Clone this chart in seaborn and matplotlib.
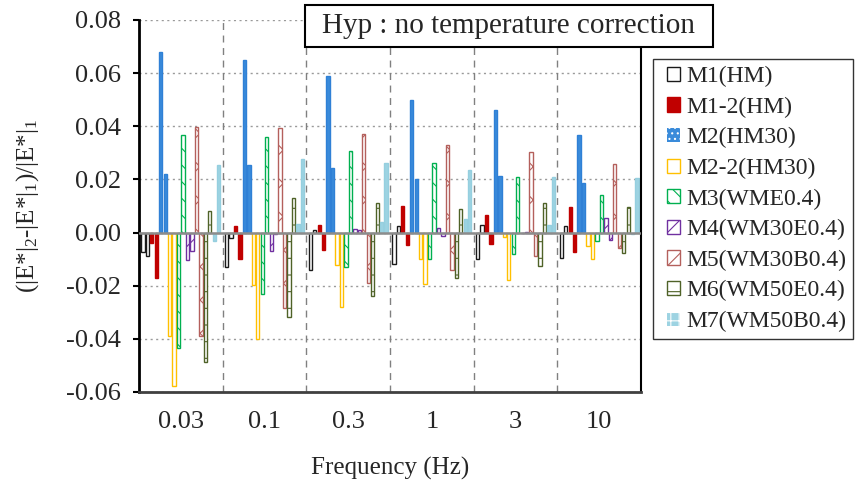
"""
Relative change of |E*| without temperature correction, per frequency
"""

import numpy as np
import pandas as pd
import seaborn as sns
import matplotlib.pyplot as plt
from matplotlib.patches import Patch, Rectangle
from matplotlib.legend_handler import HandlerPatch
from matplotlib.ticker import FormatStrFormatter

freqs = ["0.03", "0.1", "0.3", "1", "3", "10"]
materials = ["M1(HM)", "M1-2(HM)", "M2(HM30)", "M2-2(HM30)", "M3(WME0.4)",
             "M4(WM30E0.4)", "M5(WM30B0.4)", "M6(WM50E0.4)", "M7(WM50B0.4)"]

# each material has two bars at every frequency (first and second)
m1_a = [-0.0075, -0.013, -0.014, -0.012, -0.010, -0.0097]
m1_b = [-0.009, -0.002, 0.001, 0.0024, 0.0028, 0.0026]
m12_a = [-0.004, 0.0023, 0.0028, 0.010, 0.0066, 0.0097]
m12_b = [-0.017, -0.010, -0.0064, -0.0045, -0.0043, -0.0073]
m2_a = [0.068, 0.065, 0.059, 0.050, 0.046, 0.0368]
m2_b = [0.022, 0.0254, 0.0244, 0.020, 0.0213, 0.0188]
m22_a = [-0.0388, -0.0197, -0.0122, -0.010, -0.0015, -0.0049]
m22_b = [-0.0576, -0.040, -0.028, -0.0195, -0.0177, -0.0101]
m3_a = [-0.0434, -0.023, -0.013, -0.010, -0.0079, -0.0033]
m3_b = [0.0366, 0.036, 0.0306, 0.026, 0.0208, 0.0143]
m4_a = [-0.0103, -0.0071, 0.0015, 0.0019, -0.0003, 0.0056]
m4_b = [-0.0068, -0.0005, 0.0008, -0.0013, 0.0004, -0.0029]
m5_a = [0.0397, 0.0393, 0.0372, 0.0328, 0.0303, 0.0259]
m5_b = [-0.039, -0.0283, -0.0188, -0.0142, -0.0089, -0.0059]
m6_a = [-0.0487, -0.0318, -0.0237, -0.017, -0.0127, -0.0078]
m6_b = [0.0081, 0.0129, 0.0112, 0.0087, 0.0112, 0.0098]
m7_a = [-0.0033, 0.0034, 0.0038, 0.005, 0.003, -0.0005]
m7_b = [0.0254, 0.0276, 0.0263, 0.0237, 0.0208, 0.0207]

pairs = [(m1_a, m1_b), (m12_a, m12_b), (m2_a, m2_b), (m22_a, m22_b), (m3_a, m3_b),
         (m4_a, m4_b), (m5_a, m5_b), (m6_a, m6_b), (m7_a, m7_b)]

# face, edge, hatch
styles = {
    "M1(HM)": ("white", "#1a1a1a", ""),
    "M1-2(HM)": ("#C00000", "#C00000", ""),
    "M2(HM30)": ("#3A8BDA", "#2F80D6", ""),
    "M2-2(HM30)": ("white", "#FFC000", ""),
    "M3(WME0.4)": ("white", "#00B050", "\\\\"),
    "M4(WM30E0.4)": ("white", "#7030A0", "//"),
    "M5(WM30B0.4)": ("white", "#B4605C", "x"),
    "M6(WM50E0.4)": ("white", "#4F6228", "-"),
    "M7(WM50B0.4)": ("#9DD3E2", "#95CFDF", ""),
}

rows = []
hue_order = []
for mat, (a, b) in zip(materials, pairs):
    for k, vals in (("a", a), ("b", b)):
        hue_order.append(f"{mat}|{k}")
        for f, v in zip(freqs, vals):
            rows.append({"freq": f, "series": f"{mat}|{k}", "value": v})
df = pd.DataFrame(rows)
palette = {h: styles[h.split("|")[0]][1] for h in hue_order}

sns.set_theme(style="white")
plt.rcParams["font.family"] = ["Liberation Serif", "DejaVu Serif"]
plt.rcParams["axes.unicode_minus"] = False
plt.rcParams["mathtext.default"] = "regular"
plt.rcParams["hatch.linewidth"] = 0.8

fig = plt.figure(figsize=(8.57, 4.84), dpi=100)
ax = fig.add_axes([139 / 857, 1 - 392 / 484, 502 / 857, 372 / 484])

sns.barplot(data=df, x="freq", y="value", hue="series", hue_order=hue_order,
            order=freqs, palette=palette, saturation=1, width=0.96, gap=0.26,
            errorbar=None, legend=False, ax=ax)

for cont, h in zip(ax.containers, hue_order):
    face, edge, hatch = styles[h.split("|")[0]]
    for bar in cont:
        bar.set_zorder(2)
        bar.set_facecolor(face)
        bar.set_edgecolor(edge)
        bar.set_linewidth(1)
        if hatch:
            bar.set_hatch(hatch)

ax.set_xlim(-0.5, 5.5)
ax.set_ylim(-0.06, 0.08)
ax.set_yticks(np.arange(-0.06, 0.081, 0.02))
ax.yaxis.set_major_formatter(FormatStrFormatter("%.2f"))
ax.set_axisbelow(True)
ax.yaxis.grid(True, linestyle=(0, (1.5, 2.5)), color="#9a9a9a", lw=1)
for xb in np.arange(0.5, 5.0, 1.0):
    ax.axvline(xb, color="#808080", lw=1, linestyle=(0, (5, 4)), zorder=1)
ax.axhline(0, color="#8c8c8c", lw=1.8, zorder=3)

ax.spines["top"].set_visible(False)
ax.spines["left"].set_color("black")
ax.spines["left"].set_linewidth(2)
ax.spines["right"].set_color("black")
ax.spines["right"].set_linewidth(1.5)
ax.spines["bottom"].set_color("#404040")
ax.spines["bottom"].set_linewidth(2)

ax.tick_params(axis="y", direction="out", length=4, width=1.5, color="black",
               labelsize=19, pad=9, left=True)
ax.tick_params(axis="x", length=0, labelsize=19, pad=14)

ax.set_xlabel("Frequency (Hz)", fontsize=18)
ax.xaxis.set_label_coords(0.5, -0.175)
ax.set_ylabel("(|E*|$_2$-|E*|$_1$)/|E*|$_1$", fontsize=18)
ax.yaxis.set_label_coords(-0.195, 0.5)

# title box
fig.add_artist(Rectangle((305 / 857, 1 - 47 / 484), 408 / 857, 42 / 484,
                         transform=fig.transFigure, facecolor="white",
                         edgecolor="black", lw=1.5, zorder=5))
fig.text(509 / 857, 1 - 26 / 484, "Hyp : no temperature correction",
         ha="center", va="center", fontsize=21, zorder=6)

legend_hatch = {"M2(HM30)": "...", "M7(WM50B0.4)": "++"}
handles = []
for mat in materials:
    face, edge, hatch = styles[mat]
    if mat in legend_hatch:
        handles.append(Patch(facecolor=face, edgecolor="white", lw=0,
                             hatch=legend_hatch[mat], label=mat))
    else:
        handles.append(Patch(facecolor=face, edgecolor=edge, lw=1, hatch=hatch, label=mat))
leg = fig.legend(handles=handles, loc="upper left", bbox_to_anchor=(653 / 857, 1 - 59 / 484),
                 bbox_transform=fig.transFigure, borderaxespad=0, fontsize=17,
                 frameon=True, fancybox=False, handlelength=0.85, handleheight=0.55,
                 handletextpad=0.25, labelspacing=0.4, borderpad=0.3,
                 handler_map={Patch: HandlerPatch(xpad=0.3)})
leg.get_frame().set_edgecolor("black")
leg.get_frame().set_linewidth(1)

fig.savefig("out.png", dpi=100)
